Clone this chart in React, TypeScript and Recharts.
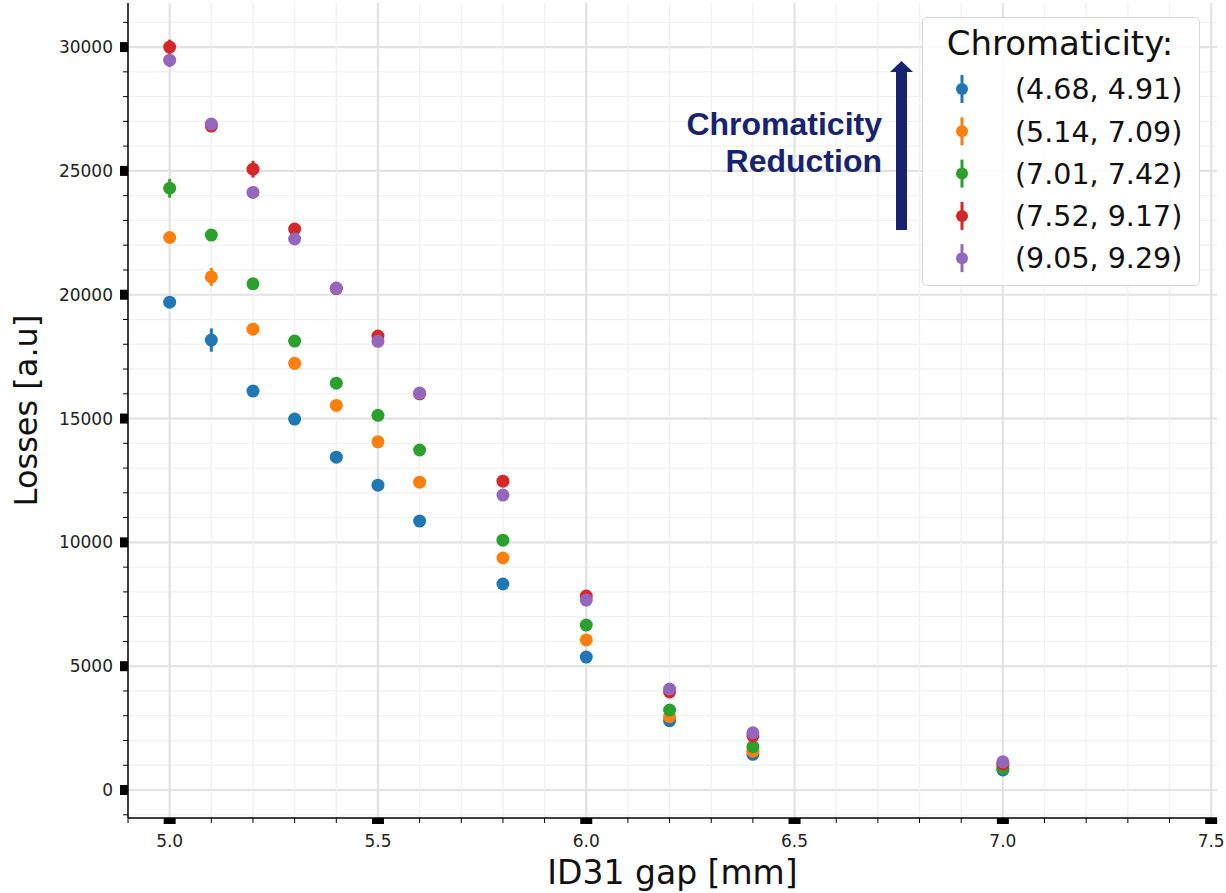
import { ScatterChart, Scatter, XAxis, YAxis, ErrorBar, ReferenceLine, Legend } from 'recharts'

// gap positions [mm]
const gaps = [5.0, 5.1, 5.2, 5.3, 5.4, 5.5, 5.6, 5.8, 6.0, 6.2, 6.4, 7.0]

// losses per chromaticity setting [a.u]
const lossesA = [19700, 18170, 16110, 14980, 13440, 12310, 10860, 8320, 5370, 2800, 1440, 810]
const lossesB = [22310, 20720, 18610, 17230, 15530, 14060, 12430, 9370, 6060, 2960, 1570, 970]
const lossesC = [24300, 22410, 20440, 18130, 16430, 15130, 13730, 10090, 6660, 3230, 1750, 880]
const lossesD = [30000, 26810, 25070, 22650, 20250, 18330, 16000, 12470, 7830, 3960, 2190, 1050]
const lossesE = [29470, 26890, 24130, 22250, 20270, 18120, 16030, 11910, 7670, 4080, 2310, 1140]

// error bars (1 sigma)
const errA = [150, 470, 120, 100, 100, 100, 100, 80, 80, 60, 50, 40]
const errB = [150, 360, 120, 100, 100, 100, 100, 80, 80, 60, 50, 40]
const errC = [380, 150, 120, 100, 100, 100, 100, 80, 80, 60, 50, 40]
const errD = [300, 150, 340, 150, 120, 120, 100, 100, 80, 60, 50, 40]
const errE = [280, 150, 120, 100, 100, 100, 100, 80, 80, 60, 50, 40]

const names = ['(4.68, 4.91)', '(5.14, 7.09)', '(7.01, 7.42)', '(7.52, 9.17)', '(9.05, 9.29)']
const colors = ['#1f77b4', '#ff7f0e', '#2ca02c', '#d62728', '#9467bd']
const allLosses = [lossesA, lossesB, lossesC, lossesD, lossesE]
const allErr = [errA, errB, errC, errD, errE]

// ticks: minor every 1000 / 0.1, labelled every 5000 / 0.5
const yTicks: number[] = []
for (let v = -1000; v <= 31000; v += 1000) yTicks.push(v)
const xTicks: number[] = []
for (let i = 49; i <= 75; i++) xTicks.push(i / 10)

const isMajorX = (v: number) => Math.round(v * 10) % 5 === 0
const isMajorY = (v: number) => v % 5000 === 0

const FONT = '"DejaVu Sans", sans-serif'
const NAVY = '#172271'

const series = names.map((name, s) => ({
  name,
  color: colors[s],
  data: gaps.map((x, i) => ({ x, y: allLosses[s][i], err: allErr[s][i] })),
}))

const YTick = ({ x, y, payload }: any) => {
  const major = isMajorY(payload.value)
  return (
    <g>
      {major ? (
        <rect x={x - 8} y={y - 5} width={8} height={10} fill="#000" />
      ) : (
        <line x1={x - 5} x2={x} y1={y} y2={y} stroke="#000" strokeWidth={1} />
      )}
      {major && (
        <text x={x - 15} y={y} dy="0.36em" textAnchor="end" fontSize={17} fontFamily={FONT} fill="#222">
          {payload.value}
        </text>
      )}
    </g>
  )
}

const XTick = ({ x, y, payload }: any) => {
  const major = isMajorX(payload.value)
  return (
    <g>
      {major ? (
        <rect x={x - 6} y={y} width={12} height={6} fill="#000" />
      ) : (
        <line x1={x} x2={x} y1={y} y2={y + 5} stroke="#000" strokeWidth={1} />
      )}
      {major && (
        <text x={x} y={y + 29} textAnchor="middle" fontSize={17} fontFamily={FONT} fill="#222">
          {payload.value.toFixed(1)}
        </text>
      )}
    </g>
  )
}

const YLabel = ({ viewBox }: any) => {
  const cx = viewBox.x + 25
  const cy = viewBox.y + viewBox.height / 2
  return (
    <text x={cx} y={cy} transform={`rotate(-90, ${cx}, ${cy})`} textAnchor="middle" dy="0.36em" fontSize={32} fontFamily={FONT} fill="#111">
      Losses [a.u]
    </text>
  )
}

const XLabel = ({ viewBox }: any) => (
  <text x={viewBox.x + viewBox.width / 2} y={viewBox.y + 66} textAnchor="middle" fontSize={33} fontFamily={FONT} fill="#111">
    ID31 gap [mm]
  </text>
)

const Dot = (color: string) => (props: any) => <circle cx={props.cx} cy={props.cy} r={6.5} fill={color} />

const renderLegend = () => (
  <div style={{ width: 278, height: 269, boxSizing: 'border-box', border: '1.5px solid #d6d6d6', borderRadius: 5, background: 'rgba(255,255,255,0.85)' }}>
    <svg width={275} height={266} style={{ display: 'block' }}>
      <text x={137} y={37} textAnchor="middle" fontSize={34} fontFamily={FONT} fill="#111">
        Chromaticity:
      </text>
      {series.map((s, i) => {
        const cy = 71 + i * 42.3
        return (
          <g key={s.name}>
            <line x1={39} x2={39} y1={cy - 14} y2={cy + 14} stroke={s.color} strokeWidth={3} />
            <circle cx={39} cy={cy} r={6} fill={s.color} />
            <text x={92} y={cy} dy="0.36em" fontSize={28.5} fontFamily={FONT} fill="#111">
              {s.name}
            </text>
          </g>
        )
      })}
    </svg>
  </div>
)

export default function App() {
  return (
    <div style={{ position: 'absolute', left: 0, top: 0, width: 1226, height: 893, background: '#fff' }}>
      <ScatterChart width={1226} height={893} margin={{ top: 3, right: 9, left: 0, bottom: 0 }}>
        {yTicks.map(v => (
          <ReferenceLine key={`gy${v}`} y={v} stroke={isMajorY(v) ? '#e2e2e2' : '#f1f1f1'} strokeWidth={isMajorY(v) ? 2.2 : 1.3} />
        ))}
        {xTicks.map(v => (
          <ReferenceLine key={`gx${v}`} x={v} stroke={isMajorX(v) ? '#e2e2e2' : '#f1f1f1'} strokeWidth={isMajorX(v) ? 2.2 : 1.3} />
        ))}
        <XAxis
          type="number"
          dataKey="x"
          domain={[4.9, 7.514]}
          ticks={xTicks}
          interval={0}
          allowDataOverflow
          height={75}
          tickSize={0}
          tickMargin={0}
          tick={<XTick />}
          axisLine={{ stroke: '#000', strokeWidth: 1.5 }}
          label={<XLabel />}
        />
        <YAxis
          type="number"
          dataKey="y"
          domain={[-1130, 31780]}
          ticks={yTicks}
          interval={0}
          allowDataOverflow
          width={128}
          tickSize={0}
          tickMargin={0}
          tick={<YTick />}
          axisLine={{ stroke: '#000', strokeWidth: 1.5 }}
          label={<YLabel />}
        />
        {series.map(s => (
          <Scatter key={s.name} name={s.name} data={s.data} fill={s.color} shape={Dot(s.color)} isAnimationActive={false}>
            <ErrorBar dataKey="err" direction="y" width={0} stroke={s.color} strokeWidth={3} />
          </Scatter>
        ))}
        <Legend
          layout="vertical"
          align="center"
          verticalAlign="middle"
          content={renderLegend}
          wrapperStyle={{ left: 922, top: 17, width: 278, height: 269 }}
        />
      </ScatterChart>

      {/* annotation arrow + text */}
      <svg width={1226} height={893} style={{ position: 'absolute', left: 0, top: 0, pointerEvents: 'none' }}>
        <rect x={896} y={71} width={11} height={159} fill={NAVY} />
        <polygon points="890,72 913,72 901.5,61" fill={NAVY} />
        <text textAnchor="end" fontFamily='"Liberation Sans", Arial, sans-serif' fontWeight="bold" fontSize={32} fill={NAVY}>
          <tspan x={882} y={135}>Chromaticity</tspan>
          <tspan x={882} y={172}>Reduction</tspan>
        </text>
      </svg>
    </div>
  )
}
